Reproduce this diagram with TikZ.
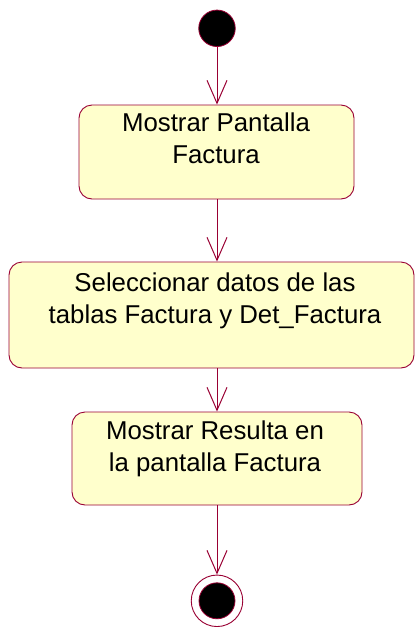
\documentclass[tikz,border=0pt]{standalone}
\usepackage{fontspec}
\setmainfont{Liberation Sans}
\usetikzlibrary{arrows.meta}
\definecolor{umlline}{RGB}{153,0,51}
\definecolor{umlfill}{RGB}{255,255,204}
\tikzset{
  actbox/.style={draw=umlline, fill=umlfill, line width=0.9pt, rounded corners=13pt, inner sep=0pt},
  acttext/.style={align=center, anchor=north, inner sep=0pt, font=\fontsize{25.8}{32}\selectfont},
  flow/.style={draw=umlline, line width=1pt, -{Straight Barb[length=23pt,width=20pt,line width=1pt]}},
}
\begin{document}
\begin{tikzpicture}[x=1pt,y=-1pt]
\useasboundingbox (0,0) rectangle (417,627);
% start
\node[circle, fill=black, draw=umlline, line width=0.8pt, minimum size=36.5pt, inner sep=0pt] (start) at (217,28.3) {};
% boxes
\node[actbox, minimum width=275pt, minimum height=94pt] (b1) at (216.5,152) {};
\node[acttext] (t1) at (216,112.5) {Mostrar Pantalla\\Factura};
\node[actbox, minimum width=405pt, minimum height=106pt] (b2) at (211.5,315) {};
\node[acttext] (t2) at (215,272.5) {Seleccionar datos de las\\tablas Factura y Det\_Factura};
\node[actbox, minimum width=290pt, minimum height=93pt] (b3) at (217,458.5) {};
\node[acttext] (t3) at (215,420.5) {Mostrar Resulta en\\la pantalla Factura};
% end
\node[circle, draw=umlline, line width=0.9pt, fill=white, minimum size=51.5pt, inner sep=0pt] (endo) at (217,600.8) {};
\node[circle, fill=black, draw=umlline, line width=0.8pt, minimum size=36pt, inner sep=0pt] (endi) at (217,600.8) {};
% flows
\draw[flow] (start.south) -- (start.south |- b1.north);
\draw[flow] (start.south |- b1.south) -- (start.south |- b2.north);
\draw[flow] (start.south |- b2.south) -- (start.south |- b3.north);
\draw[flow] (start.south |- b3.south) -- (endo.north);
\end{tikzpicture}
\end{document}
